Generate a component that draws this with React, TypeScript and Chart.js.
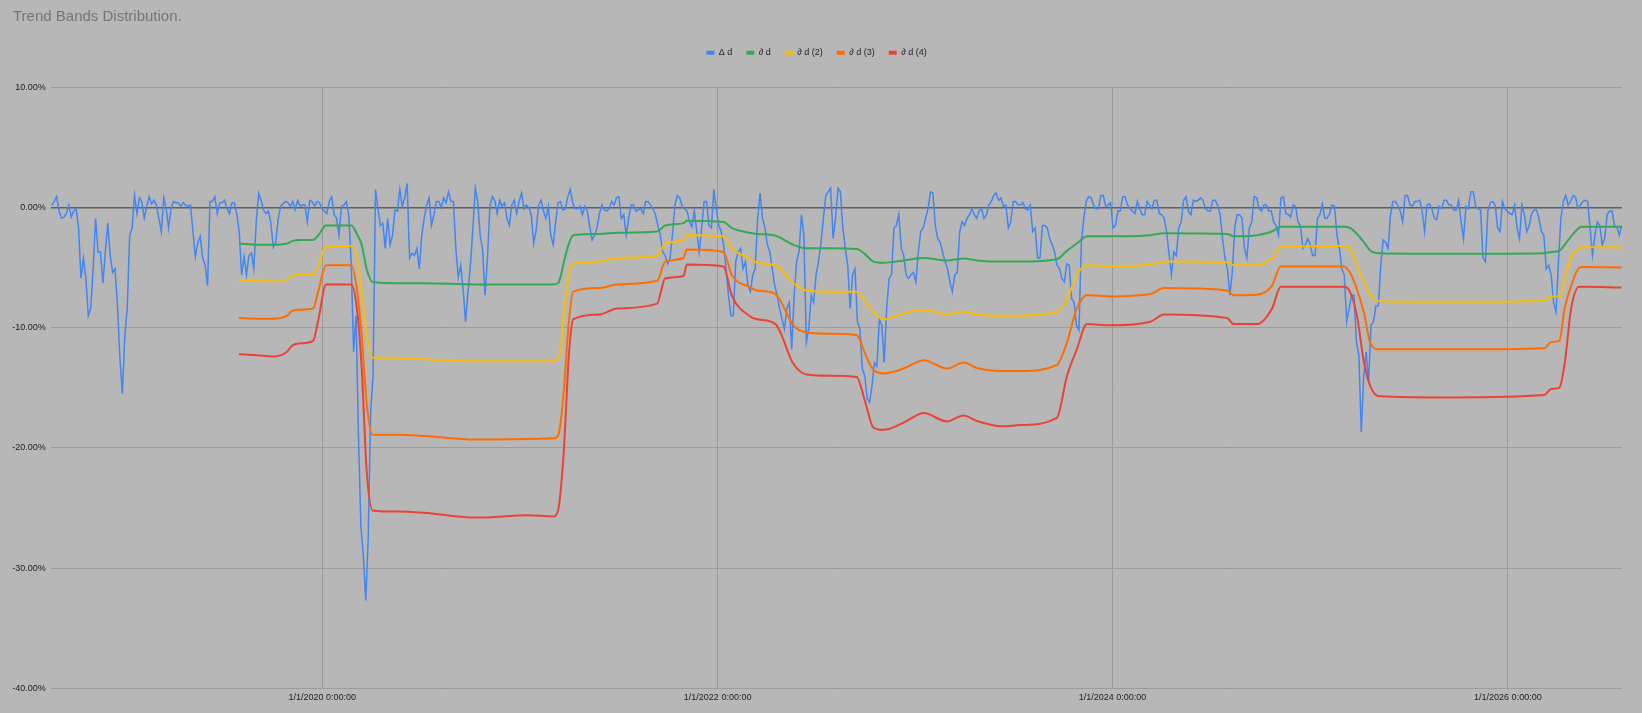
import { useEffect, useRef } from 'react'
import { Chart, registerables } from 'chart.js'

Chart.register(...registerables)

// x values are days counted from 1/1/2020
const xMinDay = -502
const xMaxDay = 2403
const xTickDays = [0, 731, 1461, 2192]
const xTickLabels = ['1/1/2020 0:00:00', '1/1/2022 0:00:00', '1/1/2024 0:00:00', '1/1/2026 0:00:00']

// Δ d, one reading every 4.5 days
const deltaStartDay = -500
const deltaStepDays = 4.5
const deltaValues = [
  0.2, 0.5, 0.9, -0.3, -0.9, -0.8, -0.5, 0.2, -0.8, -0.3,
  -0.1, -1.7, -5.9, -4.2, -5.9, -9.0, -8.4, -5.1, -0.9, -3.7,
  -3.7, -6.3, -3.7, -1.3, -4.0, -5.4, -5.1, -8.2, -12.6, -15.5,
  -10.7, -8.4, -2.3, -1.7, 1.0, -0.5, 0.8, 0.5, -0.9, 0.1,
  0.9, 0.3, 0.6, 0.2, -0.9, -2.0, 0.8, -0.1, -1.7, -0.1,
  0.5, 0.4, 0.4, 0.1, 0.4, 0.2, 0.1, 0.2, -2.0, -4.1,
  -2.9, -2.4, -4.2, -4.8, -6.5, 0.5, 0.5, 0.9, -0.5, 0.4,
  0.4, 0.6, -0.1, -0.5, 0.4, 0.4, -0.5, -2.0, -5.6, -4.1,
  -5.6, -4.0, -3.8, -5.1, -1.2, 1.2, 0.6, -0.2, -0.5, -0.3,
  -1.3, -3.3, -2.9, -1.0, 0.1, 0.3, 0.5, 0.4, 0.1, 0.5,
  -0.2, 0.6, 0.1, 0.2, 0.2, -1.2, 0.6, 0.5, 0.1, 0.5,
  0.4, -0.1, -0.3, -0.5, 0.5, 0.9, -0.6, -0.9, -2.3, 0.1,
  0.2, 0.5, -0.6, -4.5, -12.0, -9.0, -19.0, -26.5, -29.0, -32.7,
  -27.5, -17.0, -14.0, 1.5, -0.1, -1.5, -1.3, -3.4, -0.9, -3.1,
  -2.3, -0.2, -0.3, 1.5, 0.1, 0.8, 2.0, -4.2, -3.8, -4.0,
  -3.4, -5.1, -2.3, -0.9, 0.2, 0.8, -1.5, -0.6, 0.5, 0.5,
  0.0, 0.8, 0.4, 1.3, 0.5, 0.5, -3.4, -5.8, -4.8, -6.8,
  -9.5, -7.0, -4.8, -1.7, 1.6, 0.5, -2.3, -3.5, -7.3, -4.2,
  0.1, 0.9, 0.6, -0.5, 0.6, 0.1, 0.4, -0.9, -1.5, 0.2,
  0.6, -0.5, 0.5, 1.2, -0.1, 0.2, 0.0, -0.6, -3.0, -1.9,
  0.2, 0.6, -0.3, -0.9, 0.1, -2.3, -3.1, -1.2, 0.4, 0.5,
  -0.2, -0.1, 0.9, 1.5, 0.4, -0.1, -0.1, 0.1, -0.6, 0.1,
  -0.3, -1.6, -2.7, -2.3, -1.7, -0.5, 0.2, -0.2, -0.3, -0.1,
  0.5, 0.2, 0.8, 0.9, -0.9, -0.6, -2.3, -0.9, 0.2, 0.2,
  -0.3, -0.2, -0.1, -0.5, 0.5, 0.5, 0.2, -0.1, -0.6, -1.5,
  -2.3, -3.7, -4.0, -4.7, -4.2, -2.3, 0.2, 1.0, 0.8, 0.1,
  -0.1, -0.3, -1.2, -1.6, -0.3, -2.0, -3.7, -1.7, 0.5, 0.5,
  -1.5, -1.7, 1.5, -0.1, -1.5, -2.0, -3.1, -5.1, -7.3, -9.0,
  -9.0, -4.5, -3.7, -3.4, -5.1, -4.5, -6.5, -7.0, -5.6, -5.1,
  -0.9, 1.2, -0.9, -1.7, -3.1, -3.7, -5.1, -6.5, -7.3, -8.4,
  -9.3, -10.1, -8.4, -7.9, -11.8, -7.3, -4.5, -3.7, -0.6, -2.3,
  -11.2, -10.1, -7.3, -7.9, -5.6, -4.5, -3.0, -0.9, 1.0, 1.3,
  1.6, -2.6, -0.9, 1.6, 1.3, -1.7, -3.4, -4.8, -8.4, -5.6,
  -5.1, -9.5, -10.1, -13.4, -14.0, -15.9, -16.2, -14.8, -12.9, -13.2,
  -9.3, -9.8, -12.9, -8.4, -5.9, -5.6, -1.7, -1.5, -0.6, -3.4,
  -4.0, -5.6, -5.9, -5.6, -5.4, -6.2, -3.7, -2.0, -1.7, -0.9,
  -0.1, 1.3, 1.2, -1.5, -2.6, -2.9, -3.7, -4.5, -5.1, -6.2,
  -7.0, -5.6, -5.4, -2.0, -1.2, -1.5, -0.9, -0.6, -0.1, -0.6,
  -0.9, -0.3, -0.1, -0.9, -0.6, 0.2, 0.5, 1.0, 1.2, 0.6,
  0.8, 0.1, 0.2, -1.7, -1.2, 0.5, 0.5, 0.2, 0.2, 0.4,
  -0.1, -0.2, 0.2, -2.0, -1.7, -4.2, -4.2, -1.5, -1.5, -1.7,
  -2.6, -3.1, -3.7, -4.8, -5.1, -5.9, -6.2, -4.7, -4.8, -7.6,
  -7.9, -9.8, -10.2, -2.9, -0.9, 0.5, 0.9, 0.8, 0.2, -0.1,
  -0.1, 1.0, 1.0, 0.1, 0.2, 0.4, -1.7, -1.5, -0.3, -0.3,
  0.9, 0.9, 0.2, -0.1, -0.3, -0.5, 0.5, -0.1, -0.6, -0.6,
  0.5, 0.2, -0.1, 0.6, 0.6, -0.5, -0.6, -0.9, -2.0, -3.8,
  -5.6, -3.7, -4.0, -1.7, -1.2, 0.6, 0.9, -0.3, -0.6, 0.6,
  0.5, 0.6, 0.8, 0.6, -0.1, -0.3, -0.3, 0.6, 0.6, 0.2,
  -0.6, -2.6, -4.2, -5.1, -7.3, -5.4, -1.7, -0.6, -0.6, -0.9,
  -3.4, -4.2, -1.7, -1.2, 0.9, 0.8, -0.1, -0.3, 0.2, 0.2,
  -0.3, -0.3, -1.2, -1.5, -2.3, 0.8, 0.9, -0.5, -0.6, -0.8,
  0.2, 0.1, -1.2, -1.5, -3.4, -3.1, -2.6, -3.1, -4.0, -4.0,
  -0.9, -0.6, 0.3, -0.9, -0.9, -0.5, 0.2, 0.1, -2.3, -3.4,
  -5.1, -5.6, -9.5, -8.4, -7.3, -7.3, -11.2, -12.3, -18.7, -14.0,
  -12.0, -14.5, -9.8, -9.5, -8.2, -8.2, -4.8, -2.7, -2.9, -3.4,
  -0.6, 0.5, 0.5, 0.2, -0.3, -1.2, 1.0, 1.0, 0.2, 0.1,
  0.5, 0.5, 0.6, -0.3, -2.0, 0.2, 0.3, -0.1, -0.9, -1.0,
  0.1, -0.1, 0.6, 0.6, 0.2, 0.2, -0.2, -0.2, 0.6, -1.2,
  -2.6, 0.1, -0.1, 1.3, 1.3, 0.1, -0.1, -0.2, -4.2, -4.5,
  -0.3, 0.4, 0.5, 0.2, -1.7, -2.0, 0.5, -0.1, -0.3, -0.5,
  -0.6, 0.2, -1.7, -2.6, 0.2, -0.6, -2.0, -1.5, -0.5, -0.2,
  -0.2, -0.9, -2.0, -2.3, -5.1, -4.8, -5.6, -7.9, -8.7, -4.5,
  -0.9, 0.5, 1.0, 0.2, 0.5, 1.0, 0.9, -0.1, 0.2, 0.5,
  0.6, 0.5, -1.7, -4.0, -2.3, -1.2, -1.5, -3.1, -2.6, -0.6,
  -0.3, -0.3, -1.5, -1.6, -2.3, -1.5,
]

// the four trend bands share these days
const bandDays = [
  -154, -120, -91, -65, -56, -41, -17, -7, 7, 54,
  64, 73, 82, 93, 140, 187, 286, 380, 427, 436,
  441, 447, 456, 464, 513, 545, 619, 634, 668, 674,
  742, 757, 789, 804, 838, 871, 896, 939, 988, 1004,
  1019, 1038, 1075, 1112, 1155, 1186, 1210, 1256, 1291, 1358,
  1377, 1395, 1414, 1457, 1531, 1556, 1673, 1685, 1728, 1756,
  1772, 1889, 1900, 1913, 1926, 1938, 1954, 2090, 2259, 2272,
  2287, 2297, 2309, 2324, 2330, 2402,
]
const band1 = [
  -3.0, -3.1, -3.1, -3.0, -2.8, -2.7, -2.7, -2.3, -1.5, -1.5,
  -2.2, -3.1, -5.1, -6.2, -6.3, -6.3, -6.4, -6.4, -6.4, -6.3,
  -5.7, -4.5, -3.0, -2.3, -2.2, -2.1, -2.0, -1.5, -1.3, -1.1,
  -1.2, -1.7, -2.1, -2.2, -2.35, -3.1, -3.4, -3.4, -3.45, -3.9,
  -4.5, -4.6, -4.4, -4.2, -4.4, -4.25, -4.4, -4.5, -4.5, -4.3,
  -3.6, -3.0, -2.4, -2.4, -2.3, -2.15, -2.2, -2.4, -2.3, -2.0,
  -1.6, -1.6, -1.7, -2.2, -2.9, -3.6, -3.8, -3.85, -3.8, -3.7,
  -3.6, -3.1, -2.4, -1.7, -1.6, -1.6,
]
const band2 = [
  -6.1, -6.1, -6.15, -6.0, -5.7, -5.6, -5.6, -4.8, -3.2, -3.2,
  -4.2, -7.0, -10.5, -12.5, -12.5, -12.6, -12.8, -12.8, -12.8, -12.6,
  -11.8, -8.5, -5.5, -4.7, -4.5, -4.2, -4.0, -3.0, -2.7, -2.3,
  -2.4, -3.4, -4.2, -4.6, -4.8, -6.3, -6.9, -7.0, -7.0, -7.8,
  -8.7, -9.3, -8.8, -8.5, -8.9, -8.65, -8.9, -9.0, -9.0, -8.7,
  -7.6, -5.6, -4.8, -4.9, -4.75, -4.5, -4.55, -4.8, -4.8, -4.2,
  -3.3, -3.2, -3.4, -4.8, -6.2, -7.3, -7.8, -7.85, -7.75, -7.4,
  -7.4, -5.9, -4.1, -3.4, -3.3, -3.3,
]
const band3 = [
  -9.2, -9.25, -9.25, -9.0, -8.6, -8.5, -8.4, -6.9, -4.8, -4.8,
  -6.75, -10.65, -16.2, -18.9, -18.9, -19.0, -19.3, -19.25, -19.2, -19.0,
  -17.8, -15.0, -9.5, -7.0, -6.7, -6.4, -6.1, -4.5, -4.2, -3.5,
  -3.7, -5.6, -6.6, -6.9, -7.2, -9.8, -10.4, -10.5, -10.6, -12.2,
  -13.5, -13.8, -13.4, -12.7, -13.4, -12.9, -13.35, -13.6, -13.6, -13.1,
  -11.2, -8.4, -7.3, -7.4, -7.2, -6.7, -6.9, -7.3, -7.25, -6.5,
  -4.9, -4.9, -5.4, -6.8, -8.8, -11.3, -11.8, -11.8, -11.7, -11.2,
  -11.1, -8.4, -6.5, -5.0, -4.95, -5.0,
]
const band4 = [
  -12.2, -12.3, -12.4, -12.0, -11.5, -11.3, -11.1, -9.3, -6.4, -6.4,
  -8.4, -13.4, -21.8, -25.2, -25.3, -25.4, -25.8, -25.6, -25.7, -25.2,
  -23.5, -20.0, -12.3, -9.3, -8.9, -8.4, -8.0, -5.9, -5.7, -4.75,
  -4.9, -7.3, -9.0, -9.3, -9.7, -13.0, -13.9, -14.0, -14.1, -16.2,
  -18.3, -18.5, -17.9, -17.1, -17.8, -17.3, -17.75, -18.2, -18.1, -17.5,
  -14.0, -11.8, -9.7, -9.8, -9.5, -8.9, -9.2, -9.7, -9.7, -8.4,
  -6.6, -6.6, -7.0, -9.0, -12.9, -14.9, -15.7, -15.8, -15.6, -15.1,
  -15.0, -13.0, -8.4, -6.6, -6.6, -6.65,
]

const chartTitle = 'Trend Bands Distribution.'
const seriesLabels = ['Δ d', '∂ d', '∂ d (2)', '∂ d (3)', '∂ d (4)']
const seriesColors = ['#4285f4', '#34a853', '#fbbc04', '#ff6d01', '#ea4335']

const font = 'Liberation Sans, Arial, sans-serif'

export default function App() {
  const canvasRef = useRef<HTMLCanvasElement>(null)
  const chartRef = useRef<Chart | null>(null)

  useEffect(() => {
    document.body.style.margin = '0'
    if (!canvasRef.current) return
    if (chartRef.current) chartRef.current.destroy()
    const ctx = canvasRef.current.getContext('2d')
    if (!ctx) return

    const bands = [band1, band2, band3, band4]
    const datasets: any[] = [
      {
        label: seriesLabels[0],
        data: deltaValues.map((v, i) => ({ x: deltaStartDay + i * deltaStepDays, y: v })),
        borderColor: seriesColors[0],
        backgroundColor: seriesColors[0],
        borderWidth: 1.5,
        pointRadius: 0,
        order: 5,
      },
      ...bands.map((vals, k) => ({
        label: seriesLabels[k + 1],
        data: vals.map((v, i) => ({ x: bandDays[i], y: v })),
        borderColor: seriesColors[k + 1],
        backgroundColor: seriesColors[k + 1],
        borderWidth: 2,
        pointRadius: 0,
        cubicInterpolationMode: 'monotone',
        order: 4 - k,
      })),
    ]

    chartRef.current = new Chart(ctx, {
      type: 'line',
      data: { datasets },
      options: {
        animation: false,
        responsive: true,
        maintainAspectRatio: false,
        // top padding leaves room for the title placed over the canvas
        layout: { padding: { left: 11, right: 20, top: 34.3, bottom: 0 } },
        plugins: {
          title: { display: false },
          // empty spacer between the legend and the plot
          subtitle: {
            display: true,
            text: ' ',
            font: { family: font, size: 10 },
            padding: { top: 4, bottom: 4 },
          },
          legend: {
            position: 'top',
            weight: 1800,
            labels: {
              boxWidth: 8,
              boxHeight: 4,
              padding: 14,
              color: '#222',
              font: { family: font, size: 9 },
              sort: (a, b) => (a.datasetIndex ?? 0) - (b.datasetIndex ?? 0),
              generateLabels: (chart) =>
                Chart.defaults.plugins.legend.labels
                  .generateLabels(chart)
                  .map((l) => ({ ...l, lineWidth: 0 })),
            },
          } as any,
          tooltip: { enabled: false },
        },
        scales: {
          x: {
            type: 'linear',
            min: xMinDay,
            max: xMaxDay,
            afterBuildTicks: (s) => {
              s.ticks = xTickDays.map((v) => ({ value: v }))
            },
            afterFit: (s) => {
              s.height = 24.7
            },
            grid: { color: '#999999', drawTicks: false },
            border: { display: false },
            ticks: {
              autoSkip: false,
              maxRotation: 0,
              padding: 4,
              color: '#222',
              font: { family: font, size: 9 },
              callback: (v) => xTickLabels[xTickDays.indexOf(Number(v))] ?? '',
            },
          },
          y: {
            min: -40,
            max: 10,
            afterFit: (s) => {
              s.width = 39.7
            },
            grid: {
              color: (c) => (c.tick && c.tick.value === 0 ? '#5f5f5f' : '#9b9b9b'),
              lineWidth: (c) => (c.tick && c.tick.value === 0 ? 1.5 : 1),
              drawTicks: false,
            },
            border: { display: false },
            ticks: {
              stepSize: 10,
              padding: 5,
              color: '#222',
              font: { family: font, size: 9 },
              callback: (v) => Number(v).toFixed(2) + '%',
            },
          },
        },
      },
    })

    return () => {
      if (chartRef.current) {
        chartRef.current.destroy()
        chartRef.current = null
      }
    }
  }, [])

  return (
    <div style={{ position: 'relative', width: 1642, height: 713, background: '#b7b7b7' }}>
      <canvas ref={canvasRef} />
      <div
        style={{
          position: 'absolute',
          left: 13,
          top: 6.5,
          fontFamily: font,
          fontSize: 15,
          lineHeight: '18px',
          color: '#757575',
          whiteSpace: 'nowrap',
        }}
      >
        {chartTitle}
      </div>
    </div>
  )
}
